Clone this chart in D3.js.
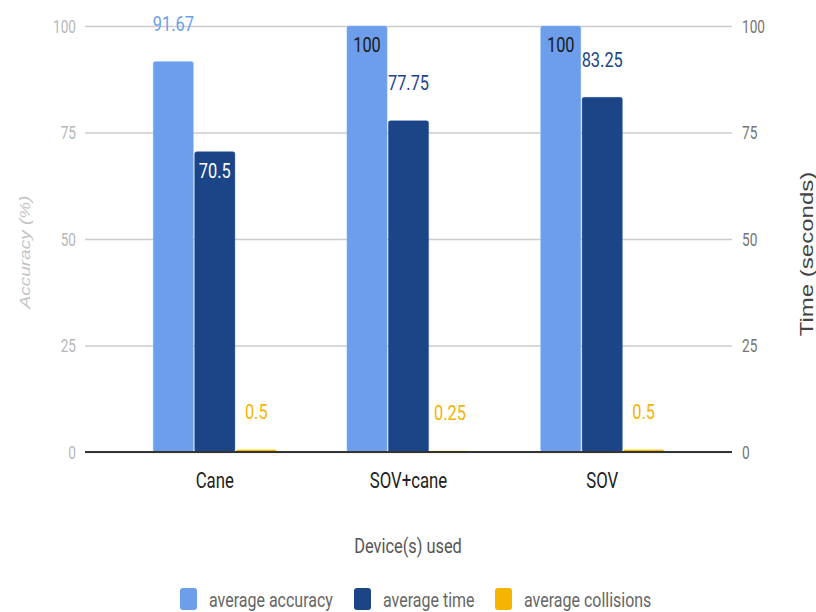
<!DOCTYPE html>
<html>
<head>
<meta charset="utf-8">
<script src="https://cdn.jsdelivr.net/npm/d3@7"></script>
<style>
  html, body { margin: 0; padding: 0; background: #fff; }
  svg { display: block; }
</style>
</head>
<body>
<svg id="chart" width="816" height="612"></svg>
<script>
const categories = ["Cane", "SOV+cane", "SOV"];
const seriesNames = ["average accuracy", "average time", "average collisions"];
const accuracy = [91.67, 100, 100];
const avgTime = [70.5, 77.75, 83.25];
const collisions = [0.5, 0.25, 0.5];
const leftTicks = [0, 25, 50, 75, 100];
const rightTicks = [0, 25, 50, 75, 100];
const xTitle = "Device(s) used";
const leftTitle = "Accuracy (%)";
const rightTitle = "Time (seconds)";

const colors = ["#6d9eeb", "#1c4587", "#f4b400"];
const SX = 0.78;
const FONT = "Roboto, 'Liberation Sans', sans-serif";
const ARIAL = "'Liberation Sans', Arial, sans-serif";

const series = [accuracy, avgTime, collisions];
const svg = d3.select("#chart");

const L = 85, R = 732, T = 26, B = 452;
const y = d3.scaleLinear().domain([0, 100]).range([B, T]);
const yR = d3.scaleLinear().domain([0, 100]).range([B, T]);
const x0 = d3.scaleBand().domain(categories).range([L, R]).paddingInner(0.364).paddingOuter(0.352);
const x1 = d3.scaleBand().domain(d3.range(series.length)).range([0, x0.bandwidth()]).paddingInner(0.03);

function txt(x, yy, str, o) {
  const t = svg.append("text")
    .attr("transform", `translate(${x},${yy}) scale(${SX},1)` + (o.rot ? " rotate(-90)" : ""))
    .attr("text-anchor", o.anchor || "middle")
    .attr("dy", "0.35em")
    .attr("font-family", o.family || FONT)
    .attr("font-size", o.size)
    .attr("fill", o.fill)
    .text(str);
  if (o.italic) t.attr("font-style", "italic");
  return t;
}

// Left axis with gridlines
const gl = svg.append("g").attr("transform", `translate(${L},0)`)
  .call(d3.axisLeft(y).tickValues(leftTicks).tickSize(-(R - L)));
gl.select(".domain").remove();
gl.selectAll(".tick line").attr("stroke", "#cccccc").attr("stroke-width", 1.5);
gl.selectAll(".tick text")
  .attr("x", null).attr("dy", "0.35em")
  .attr("transform", `translate(-9,0) scale(${SX},1)`)
  .attr("font-family", FONT).attr("font-size", 17.5).attr("fill", "#b7b7b7");

// Right axis
const gr = svg.append("g").attr("transform", `translate(${R},0)`)
  .call(d3.axisRight(yR).tickValues(rightTicks).tickSize(0));
gr.select(".domain").remove();
gr.selectAll(".tick text")
  .attr("x", null).attr("dy", "0.35em")
  .attr("transform", `translate(10,0) scale(${SX},1)`)
  .attr("font-family", FONT).attr("font-size", 17.5).attr("fill", "#757575");

// Bars
const groups = svg.append("g").selectAll("g").data(categories).join("g")
  .attr("transform", d => `translate(${x0(d)},0)`);

groups.each(function(cat, ci) {
  const g = d3.select(this);
  series.forEach((vals, si) => {
    const v = vals[ci];
    const yTop = y(v);
    const h = Math.max(y(0) - yTop, 1);
    g.append("rect")
      .attr("x", x1(si)).attr("y", y(0) - h)
      .attr("width", x1.bandwidth()).attr("height", h)
      .attr("rx", Math.min(2, h / 2))
      .attr("fill", colors[si])
      .attr("stroke", d3.color(colors[si]).brighter(0.6))
      .attr("stroke-opacity", 0.5).attr("stroke-width", 0.8);
  });
});

// Data labels
categories.forEach((cat, ci) => {
  series.forEach((vals, si) => {
    const v = vals[ci];
    const label = String(v);
    const cx = x0(cat) + x1(si) + x1.bandwidth() / 2;
    const barH = y(0) - y(v);
    const inside = label.length <= 4 && barH > 30;
    let fill, ly;
    if (inside) {
      ly = y(v) + 19;
      fill = si === 0 ? "#1a1a1a" : "#ffffff";
    } else {
      ly = y(v) - 38;
      fill = colors[si];
    }
    txt(cx, ly, label, { size: 21, fill: fill });
  });
});

// Baseline
svg.append("line").attr("x1", L).attr("x2", R).attr("y1", y(0)).attr("y2", y(0))
  .attr("stroke", "#333333").attr("stroke-width", 2);

// Category labels
categories.forEach(cat => {
  txt(x0(cat) + x0.bandwidth() / 2, 480, cat, { size: 21.5, fill: "#222222" });
});

// Axis titles
txt((L + R) / 2 - 0.5, 546, xTitle, { size: 21, fill: "#555555" });
txt(25, 252, leftTitle, { size: 19, fill: "#c4c4c4", rot: true, italic: true, family: ARIAL });
txt(806, 254, rightTitle, { size: 24, fill: "#444444", rot: true, family: ARIAL });

// Legend
const legendX = [180, 354, 495];
seriesNames.forEach((name, i) => {
  svg.append("rect").attr("x", legendX[i]).attr("y", 588).attr("width", 17).attr("height", 22)
    .attr("rx", 3).attr("fill", colors[i]);
  txt(legendX[i] + 29, 600, name, { size: 20.5, fill: "#666666", anchor: "start" });
});
</script>
</body>
</html>
